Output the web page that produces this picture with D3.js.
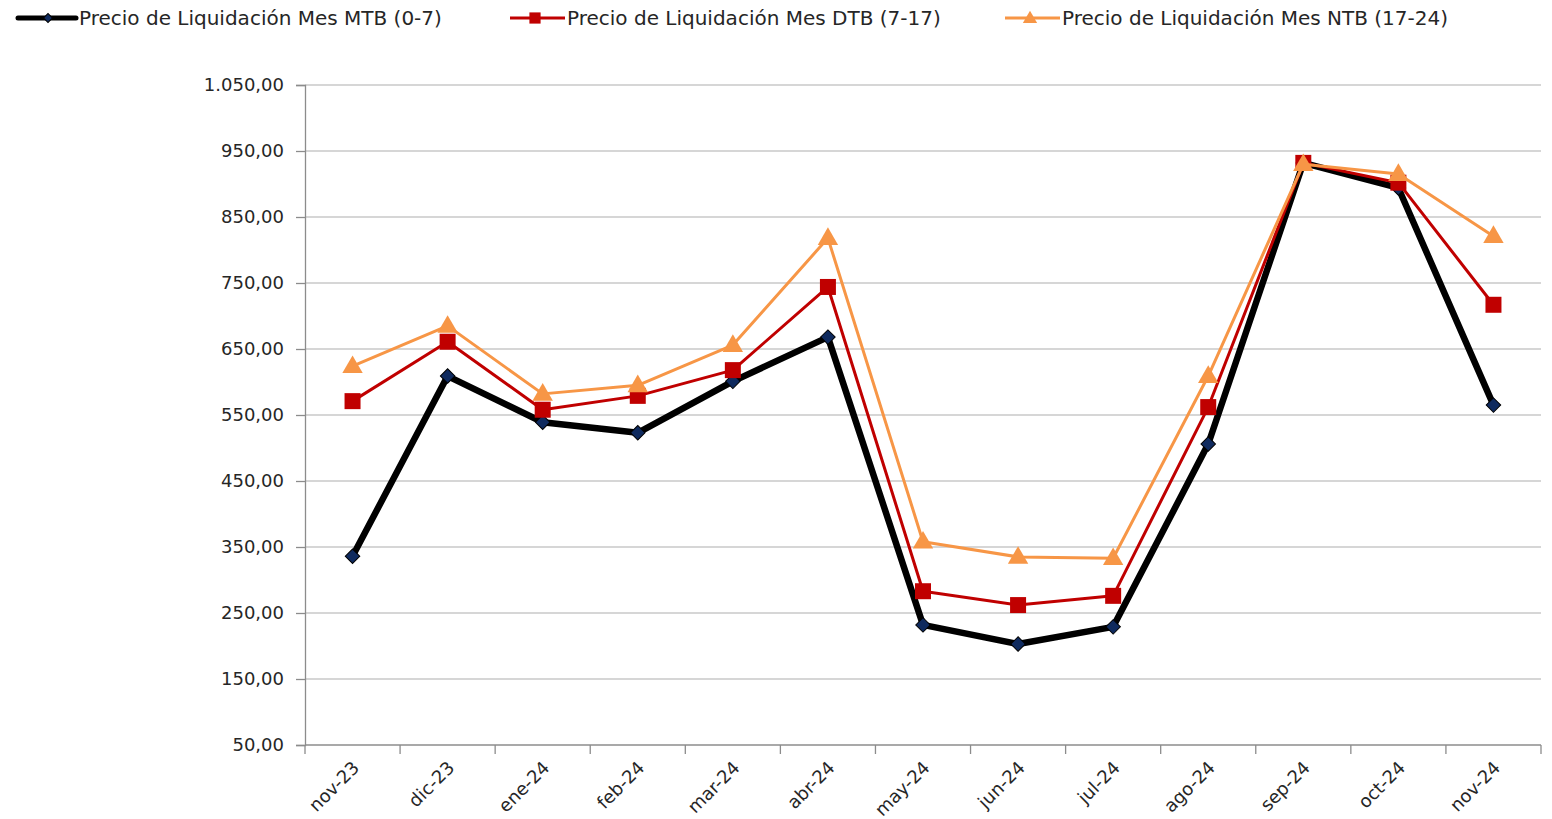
<!DOCTYPE html>
<html lang="es">
<head>
<meta charset="UTF-8">
<title>Precio de Liquidación</title>
<style>
  body { margin: 0; background: #fff; }
  svg text { font-family: "DejaVu Sans", sans-serif; fill: #262626; }
</style>
</head>
<body>
<svg id="chart" width="1552" height="819"></svg>
<script src="https://cdn.jsdelivr.net/npm/d3@7"></script>
<script>
/* global d3 */

// data
var months = ["nov-23", "dic-23", "ene-24", "feb-24", "mar-24", "abr-24", "may-24",
              "jun-24", "jul-24", "ago-24", "sep-24", "oct-24", "nov-24"];
var mtb = [336, 609, 539, 523, 601, 668, 232, 203, 229, 506, 932, 894, 565];
var dtb = [571, 661, 558, 579, 618, 744, 283, 262, 276, 562, 932, 902, 717];
var ntb = [624, 685, 582, 595, 656, 818, 358, 335, 333, 609, 930, 915, 821];
var yTicks = [50, 150, 250, 350, 450, 550, 650, 750, 850, 950, 1050];
var seriesNames = ["Precio de Liquidación Mes MTB (0-7)",
                   "Precio de Liquidación Mes DTB (7-17)",
                   "Precio de Liquidación Mes NTB (17-24)"];

var svg = d3.select("#chart");
var plotLeft = 305, plotRight = 1541, plotTop = 85, plotBottom = 745;

var x = d3.scaleBand().domain(months).range([plotLeft, plotRight]);
var y = d3.scaleLinear().domain([50, 1050]).range([plotBottom, plotTop]);

// spanish number format 1.050,00
var fmt = d3.formatLocale({decimal: ",", thousands: ".", grouping: [3], currency: ["", "€"]}).format(",.2f");

// grid
svg.append("g").selectAll("line").data(yTicks.slice(1)).join("line")
    .attr("x1", plotLeft).attr("x2", plotRight)
    .attr("y1", d => y(d)).attr("y2", d => y(d))
    .attr("stroke", "#c9c9c9").attr("stroke-width", 1.3);

// y axis
var yAxis = svg.append("g").attr("transform", `translate(${plotLeft},0)`)
    .call(d3.axisLeft(y).tickValues(yTicks).tickFormat(fmt).tickSize(9).tickPadding(12));
yAxis.select(".domain").attr("stroke", "#8c8c8c").attr("stroke-width", 1.3);
yAxis.selectAll(".tick line").attr("stroke", "#8c8c8c").attr("stroke-width", 1.3);
yAxis.selectAll("text").style("font-size", "18px").attr("fill", "#262626")
    .style("font-family", "DejaVu Sans, sans-serif");

// x axis (ticks between categories)
svg.append("line").attr("x1", plotLeft).attr("x2", plotRight)
    .attr("y1", plotBottom).attr("y2", plotBottom)
    .attr("stroke", "#8c8c8c").attr("stroke-width", 1.3);
var bounds = months.map(m => x(m)).concat([plotRight]);
svg.append("g").selectAll("line").data(bounds).join("line")
    .attr("x1", d => d).attr("x2", d => d)
    .attr("y1", plotBottom).attr("y2", plotBottom + 9)
    .attr("stroke", "#8c8c8c").attr("stroke-width", 1.3);
svg.append("g").selectAll("text").data(months).join("text")
    .attr("transform", d => `translate(${x(d) + x.bandwidth() / 2 - 1},${plotBottom + 15}) rotate(-45)`)
    .attr("text-anchor", "end").attr("dy", "0.7em")
    .style("font-size", "18px")
    .text(d => d);

var cx = i => x(months[i]) + x.bandwidth() / 2;
var line = d3.line().x((d, i) => cx(i)).y(d => y(d));

var series = [
    {vals: mtb, color: "#000000", width: 6.5, sym: "diamond", fill: "#0f2a5e", stroke: "#000"},
    {vals: dtb, color: "#c00000", width: 3, sym: "square", fill: "#c00000"},
    {vals: ntb, color: "#f79646", width: 3, sym: "triangle", fill: "#f79646"}
];

function drawMarker(g, s, px, py, scale) {
    if (s.sym === "diamond") {
        g.append("path").attr("d", d3.symbol().type(d3.symbolSquare).size(105 * scale * scale)())
            .attr("transform", `translate(${px},${py}) rotate(45)`)
            .attr("fill", s.fill).attr("stroke", s.stroke).attr("stroke-width", 1);
    } else if (s.sym === "square") {
        g.append("path").attr("d", d3.symbol().type(d3.symbolSquare).size(256 * scale * scale)())
            .attr("transform", `translate(${px},${py})`)
            .attr("fill", s.fill);
    } else {
        g.append("path").attr("d", d3.symbol().type(d3.symbolTriangle).size(180 * scale * scale)())
            .attr("transform", `translate(${px},${py + 1})`)
            .attr("fill", s.fill);
    }
}

series.forEach(function(s) {
    var g = svg.append("g");
    g.append("path").datum(s.vals).attr("d", line)
        .attr("fill", "none").attr("stroke", s.color).attr("stroke-width", s.width)
        .attr("stroke-linejoin", "round");
    s.vals.forEach((v, i) => drawMarker(g, s, cx(i), y(v), 1));
});

// legend
var legendX = [45, 510, 1005];
var legend = svg.append("g");
series.forEach(function(s, i) {
    var lx = legendX[i];
    legend.append("line").attr("x1", lx - (i === 0 ? 27 : 0)).attr("x2", lx + (i === 0 ? 31 : 55))
        .attr("y1", 18).attr("y2", 18)
        .attr("stroke", s.color).attr("stroke-width", i === 0 ? 5 : 3)
        .attr("stroke-linecap", i === 0 ? "round" : "butt");
    drawMarker(legend, s, lx + (i === 0 ? 3 : 25), 18, i === 0 ? 0.62 : 0.7);
    legend.append("text").attr("x", lx + (i === 0 ? 34 : 57)).attr("y", 18)
        .attr("dy", "0.35em").style("font-size", "20px")
        .text(seriesNames[i]);
});
</script>
</body>
</html>
